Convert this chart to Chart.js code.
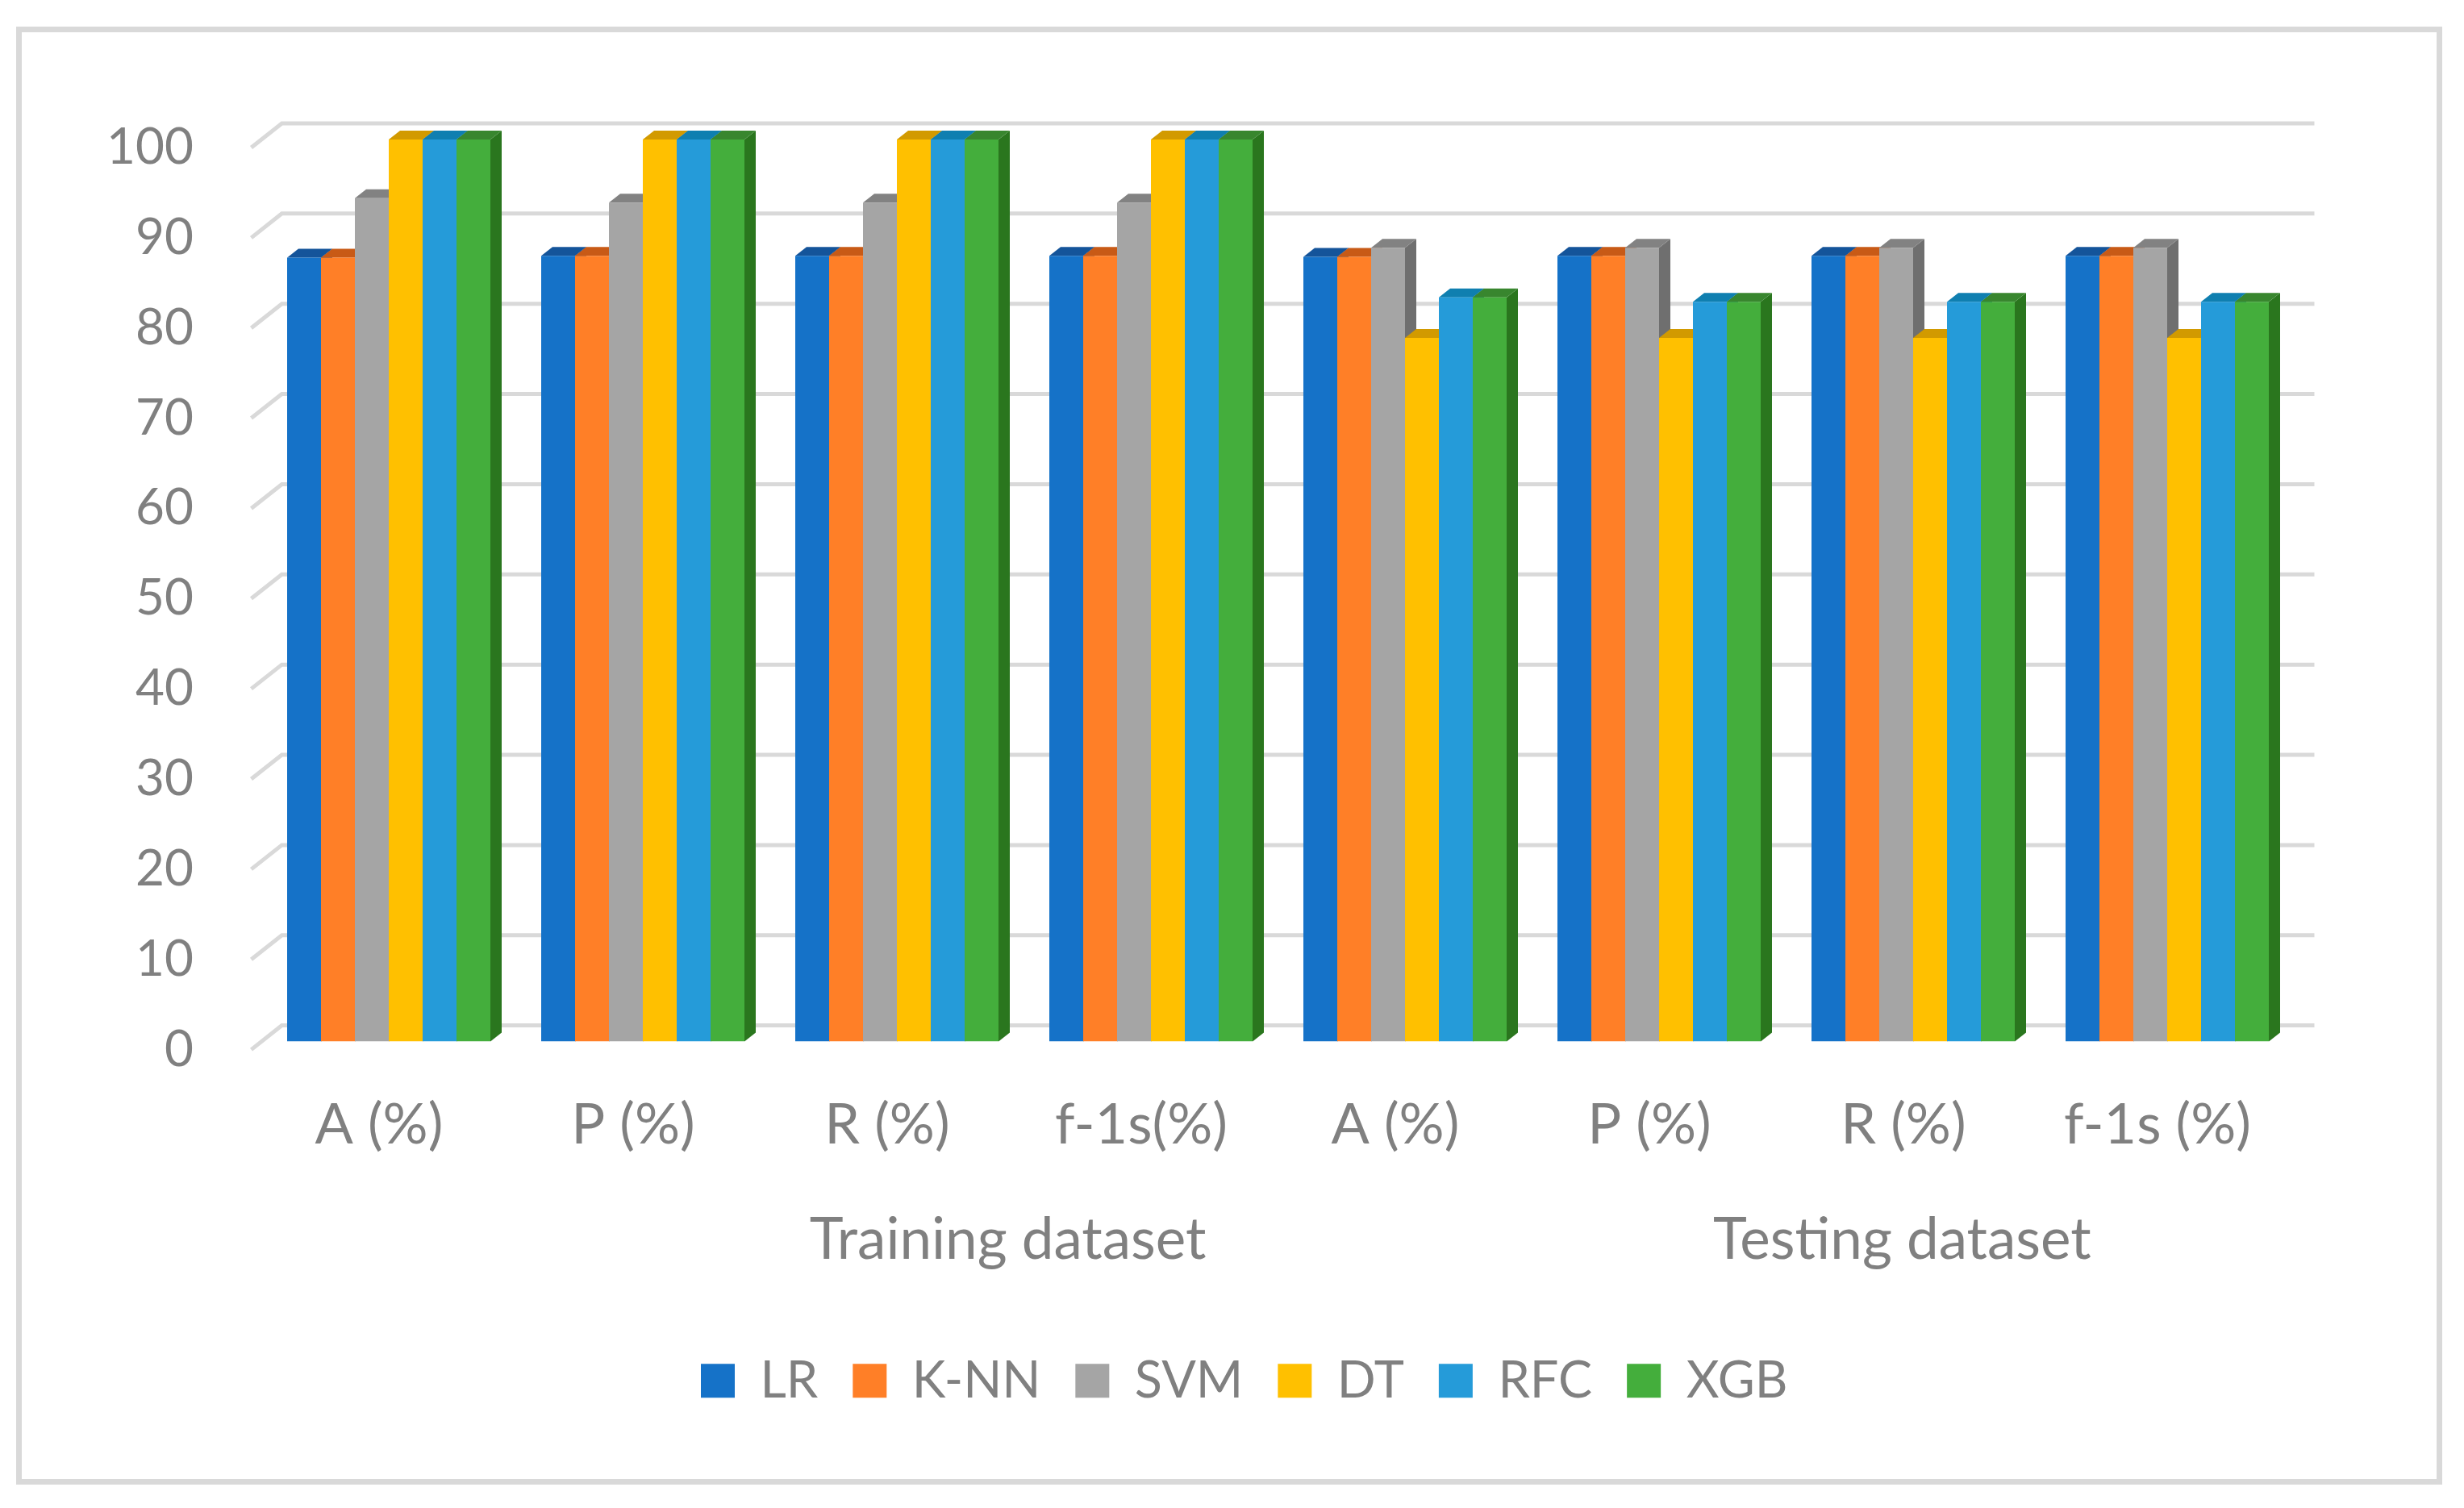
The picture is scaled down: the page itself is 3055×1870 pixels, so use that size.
<!DOCTYPE html>
<html>
<head>
<meta charset="utf-8">
<style>
  body { margin: 0; background: #fff; }
  canvas { display: block; }
  #frame { position: absolute; left: 20px; top: 33px; width: 2994px; height: 1794px; border: 7px solid #d9d9d9; }
</style>
</head>
<body>
<div id="frame"></div>
<canvas id="chart" width="3055" height="1870"></canvas>
<script src="https://cdn.jsdelivr.net/npm/chart.js@4/dist/chart.umd.min.js"></script>
<script>
const categories = ["A (%)", "P (%)", "R (%)", "f-1s(%)", "A (%)", "P (%)", "R (%)", "f-1s (%)"];
const lr = [86.9, 87.1, 87.1, 87.1, 87, 87.1, 87.1, 87.1];
const knn = [86.9, 87.1, 87.1, 87.1, 87, 87.1, 87.1, 87.1];
const svm = [93.5, 93, 93, 93, 88, 88, 88, 88];
const dt = [100, 100, 100, 100, 78, 78, 78, 78];
const rfc = [100, 100, 100, 100, 82.5, 82, 82, 82];
const xgb = [100, 100, 100, 100, 82.5, 82, 82, 82];

const seriesNames = ["LR", "K-NN", "SVM", "DT", "RFC", "XGB"];
const seriesValues = [lr, knn, svm, dt, rfc, xgb];
const frontColors = ["#1572c8", "#ff7f27", "#a5a5a5", "#ffc000", "#259bd9", "#44ae3c"];
const topColors = ["#14549a", "#c85a16", "#828282", "#d29a00", "#0f7fb0", "#38862e"];
const sideColors = ["#0f4f96", "#b9500f", "#6f6f6f", "#c28e00", "#0c6e9c", "#2a761e"];

const groupLabels = ["Training dataset", "Testing dataset"];
const groupLabelSlots = [2.475, 5.995];

const textColor = "#808080";
const fontFamily = "Lato, 'Open Sans', sans-serif";
const depth = { x: 14, y: 11 };

const polygon = (ctx, color, points) => {
  ctx.fillStyle = color;
  ctx.beginPath();
  points.forEach(([x, y], i) => (i ? ctx.lineTo(x, y) : ctx.moveTo(x, y)));
  ctx.closePath();
  ctx.fill();
};

// the 3d look: back wall lines first, then the side and top of every bar
const threeD = {
  id: "threeD",
  afterLayout(chart) {
    chart.legend.left = 826;
  },
  beforeDatasetsDraw(chart) {
    const { ctx, chartArea, scales } = chart;
    ctx.save();
    ctx.strokeStyle = "#d9d9d9";
    ctx.lineWidth = 5;
    scales.y.ticks.forEach((tick) => {
      const y = scales.y.getPixelForValue(tick.value);
      ctx.beginPath();
      ctx.moveTo(chartArea.left - 13, y + 10);
      ctx.lineTo(chartArea.left + 25, y - 20);
      ctx.lineTo(chartArea.right + 25, y - 20);
      ctx.stroke();
    });
    categories.forEach((_, j) => {
      seriesValues.forEach((_, i) => {
        const bar = chart.getDatasetMeta(i).data[j];
        const left = bar.x - bar.width / 2;
        const right = bar.x + bar.width / 2;
        polygon(ctx, sideColors[i], [
          [right, bar.y], [right + depth.x, bar.y - depth.y],
          [right + depth.x, bar.base - depth.y], [right, bar.base]
        ]);
        polygon(ctx, topColors[i], [
          [left, bar.y], [right, bar.y],
          [right + depth.x, bar.y - depth.y], [left + depth.x, bar.y - depth.y]
        ]);
      });
    });
    ctx.restore();
  },
  afterDraw(chart) {
    const { ctx, scales } = chart;
    ctx.save();
    ctx.fillStyle = textColor;
    ctx.font = `71px ${fontFamily}`;
    ctx.textAlign = "center";
    ctx.textBaseline = "middle";
    groupLabels.forEach((label, i) => {
      ctx.fillText(label, scales.x.getPixelForValue(groupLabelSlots[i]) - 12, 1538);
    });
    ctx.restore();
  }
};

new Chart(document.getElementById("chart"), {
  type: "bar",
  data: {
    labels: categories,
    datasets: seriesNames.map((name, i) => ({
      label: name,
      data: seriesValues[i],
      backgroundColor: frontColors[i],
      borderWidth: 0,
      barPercentage: 1,
      categoryPercentage: 0.8
    }))
  },
  plugins: [threeD],
  options: {
    responsive: false,
    devicePixelRatio: 1,
    animation: false,
    layout: { padding: { top: 173, right: 210.5, bottom: 116.2, left: 0 } },
    scales: {
      x: {
        grid: { display: false, drawTicks: false },
        border: { display: false },
        ticks: {
          color: textColor,
          font: { family: fontFamily, size: 70 },
          padding: 62,
          labelOffset: -12,
          maxRotation: 0,
          autoSkip: false
        },
        afterFit: (scale) => { scale.height = 346.2; }
      },
      y: {
        min: 0,
        max: 100,
        grid: { display: false, drawTicks: false },
        border: { display: false },
        ticks: {
          stepSize: 10,
          color: textColor,
          font: { family: fontFamily, size: 62 },
          padding: 84.5,
          labelOffset: 10
        },
        afterFit: (scale) => { scale.width = 324.5; }
      }
    },
    plugins: {
      tooltip: { enabled: false },
      legend: {
        position: "bottom",
        align: "start",
        labels: {
          boxWidth: 42,
          boxHeight: 42,
          padding: 43,
          color: textColor,
          font: { family: fontFamily, size: 63 }
        }
      }
    }
  }
});
</script>
</body>
</html>
